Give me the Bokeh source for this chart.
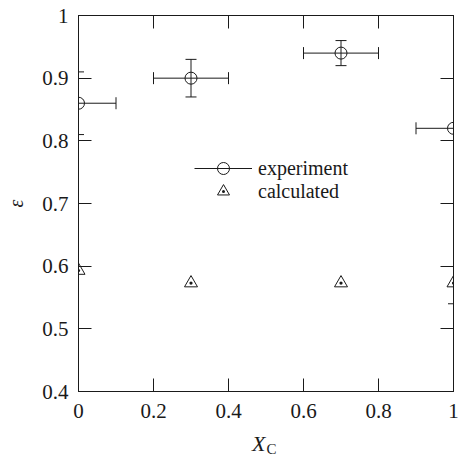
import numpy as np
from bokeh.plotting import figure
from bokeh.layouts import column
from bokeh.models import (Range1d, FixedTicker, LinearAxis, Whisker, TeeHead,
                          ColumnDataSource, Legend, LegendItem, Div)
from bokeh.embed import file_html
from bokeh.resources import INLINE

# ---- data ----
xc = [0.0, 0.3, 0.7, 1.0]
eps_exp = [0.86, 0.90, 0.94, 0.82]
exp_xerr = [0.1, 0.1, 0.1, 0.1]
exp_yerr = [0.05, 0.03, 0.02, 0.0]
eps_calc = [0.593, 0.573, 0.573, 0.573]
calc_yerr_lower = [0.0, 0.0, 0.0, 0.033]

x_ticks = [0, 0.2, 0.4, 0.6, 0.8, 1]
x_tick_labels = ["0", "0.2", "0.4", "0.6", "0.8", "1"]
y_ticks = [0.4, 0.5, 0.6, 0.7, 0.8, 0.9, 1]
y_tick_labels = ["0.4", "0.5", "0.6", "0.7", "0.8", "0.9", "1"]

XMIN, XMAX, YMIN, YMAX = 0.0, 1.0, 0.4, 1.0
FONT = "Liberation Serif"
INK = "#1a1a1a"

p = figure(width=461, height=431, output_backend="svg", toolbar_location=None,
           x_range=Range1d(XMIN, XMAX), y_range=Range1d(YMIN, YMAX),
           min_border_left=78, min_border_right=8, min_border_top=15,
           min_border_bottom=40, x_axis_location=None, y_axis_location=None)
p.grid.visible = False
p.outline_line_color = INK
p.background_fill_color = "white"
p.border_fill_color = "white"


def style_axis(ax, ticks, labels, show_labels):
    ax.ticker = FixedTicker(ticks=ticks)
    ax.major_tick_in = 13
    ax.major_tick_out = 0
    ax.minor_tick_line_color = None
    ax.axis_line_color = INK
    ax.major_tick_line_color = INK
    ax.major_label_text_font = FONT
    if show_labels:
        ax.major_label_overrides = {t: l for t, l in zip(ticks, labels)}
        ax.major_label_text_color = INK
        ax.major_label_text_font_size = "21px"
    else:
        ax.major_label_text_color = None
        ax.major_label_text_font_size = "0px"
        ax.major_label_standoff = 0


xb = LinearAxis()
style_axis(xb, x_ticks, x_tick_labels, True)
xb.major_label_standoff = 12
p.add_layout(xb, "below")

yl = LinearAxis(axis_label="ε")
style_axis(yl, y_ticks, y_tick_labels, True)
yl.major_label_standoff = 10
yl.axis_label_text_font = FONT
yl.axis_label_text_font_style = "italic"
yl.axis_label_text_font_size = "20px"
yl.axis_label_text_color = INK
yl.axis_label_standoff = 12
p.add_layout(yl, "left")

xt = LinearAxis()
style_axis(xt, x_ticks, x_tick_labels, False)
p.add_layout(xt, "above")

yr = LinearAxis()
style_axis(yr, y_ticks, y_tick_labels, False)
p.add_layout(yr, "right")

# ---- error bars ----
xc_a = np.array(xc)
ee = np.array(eps_exp)
xe = np.array(exp_xerr)
ye = np.array(exp_yerr)
ec = np.array(eps_calc)
cl = np.array(calc_yerr_lower)

hsrc = ColumnDataSource(dict(y=ee, lo=np.clip(xc_a - xe, XMIN, XMAX),
                             hi=np.clip(xc_a + xe, XMIN, XMAX)))
hbar = p.segment(x0="lo", y0="y", x1="hi", y1="y", source=hsrc,
                 line_color=INK, line_width=1)
p.add_layout(Whisker(source=hsrc, base="y", lower="lo", upper="hi",
                     dimension="width", line_alpha=0,
                     lower_head=TeeHead(size=12, line_color=INK, line_width=1),
                     upper_head=TeeHead(size=12, line_color=INK, line_width=1)))

m = ye > 0
vsrc = ColumnDataSource(dict(x=xc_a[m], lo=(ee - ye)[m], hi=(ee + ye)[m]))
p.segment(x0="x", y0="lo", x1="x", y1="hi", source=vsrc, line_color=INK, line_width=1)
p.add_layout(Whisker(source=vsrc, base="x", lower="lo", upper="hi",
                     dimension="height", line_alpha=0,
                     lower_head=TeeHead(size=11, line_color=INK, line_width=1),
                     upper_head=TeeHead(size=11, line_color=INK, line_width=1)))

mc = cl > 0
csrc = ColumnDataSource(dict(x=xc_a[mc], lo=(ec - cl)[mc], hi=ec[mc]))
p.segment(x0="x", y0="lo", x1="x", y1="hi", source=csrc, line_color=INK, line_width=1)
p.add_layout(Whisker(source=csrc, base="x", lower="lo", upper="hi",
                     dimension="height", line_alpha=0,
                     lower_head=TeeHead(size=11, line_color=INK, line_width=1),
                     upper_head=None))

# ---- markers ----
circ = p.scatter(xc, eps_exp, marker="circle", size=12, fill_color=None,
                 line_color=INK, line_width=1)
tri = p.scatter(xc, eps_calc, marker="triangle_dot", size=13, fill_color=None,
                line_color=INK, line_width=1)

legend_kw = dict(orientation="vertical", glyph_width=58, glyph_height=30,
                 label_height=19, label_standoff=6, spacing=0, padding=0,
                 margin=0, border_line_color=None, background_fill_alpha=0,
                 label_text_font=FONT, label_text_font_size="20px",
                 label_text_color=INK)
leg1 = Legend(items=[LegendItem(label="experiment", renderers=[hbar, circ])],
              location=(116, 208), **legend_kw)
leg2 = Legend(items=[LegendItem(label="calculated", renderers=[tri])],
              location=(116, 185), **legend_kw)
p.add_layout(leg1, "center")
p.add_layout(leg2, "center")

# ---- x axis title: X_C (HTML, real text) ----
title_html = ('<span style="font-family:\'Liberation Serif\';color:#1a1a1a;">'
              '<span style="font-style:italic;font-size:22px;">X</span>'
              '<span style="font-size:15px;position:relative;top:3px;margin-left:1px;">C</span>'
              '</span>')
xlabel = Div(text=title_html, width=461, height=26,
             styles={"padding-left": "252px", "line-height": "26px",
                     "margin": "0", "background-color": "white"})

layout = column(p, xlabel, spacing=0, styles={"background-color": "white"})

open("out.html", "w").write(file_html(layout, INLINE))
